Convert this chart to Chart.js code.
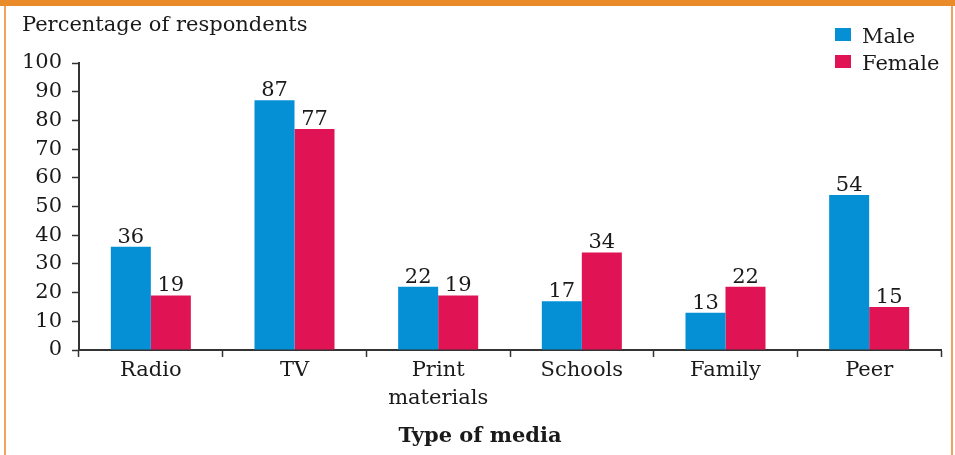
<!DOCTYPE html>
<html>
<head>
<meta charset="utf-8">
<script src="https://cdn.jsdelivr.net/npm/chart.js@4/dist/chart.umd.min.js"></script>
<style>
  html, body { margin: 0; padding: 0; background: #fff; }
  #wrap { position: relative; width: 955px; height: 455px; }
  #chart { position: absolute; left: 0; top: 0; }
  #frame {
    position: absolute; left: 4px; top: 0; width: 949px; height: 455px;
    box-sizing: border-box; pointer-events: none;
    border-left: 2px solid #EFA45A; border-right: 2px solid #EFA45A;
  }
  #topbar { position: absolute; left: 0; top: 0; width: 955px; height: 6px; background: #E98B28; }
</style>
</head>
<body>
<div id="wrap">
  <canvas id="chart" width="955" height="455"></canvas>
  <div id="frame"></div>
  <div id="topbar"></div>
</div>
<script>
const categories = ['Radio', 'TV', ['Print', 'materials'], 'Schools', 'Family', 'Peer'];
const maleValues = [36, 87, 22, 17, 13, 54];
const femaleValues = [19, 77, 19, 34, 22, 15];
const yTicks = [0, 10, 20, 30, 40, 50, 60, 70, 80, 90, 100];

const FONT = "'DejaVu Serif', serif";
const INK = '#1a1a1a';
const AXIS = '#333333';
const MALE = '#0590D6';
const FEMALE = '#E01454';

// Value labels above bars, axis captions and the legend box in the top right
const annotations = {
  id: 'annotations',
  afterDatasetsDraw(chart) {
    const ctx = chart.ctx;
    ctx.save();
    ctx.fillStyle = INK;
    ctx.font = '21px ' + FONT;
    ctx.textAlign = 'center';
    ctx.textBaseline = 'alphabetic';
    chart.data.datasets.forEach((ds, i) => {
      chart.getDatasetMeta(i).data.forEach((bar, j) => {
        ctx.fillText(String(ds.data[j]), bar.x, bar.y - 4);
      });
    });

    // y caption
    ctx.textAlign = 'left';
    ctx.fillText('Percentage of respondents', 22, 31);

    // x caption
    ctx.font = 'bold 21px ' + FONT;
    ctx.textAlign = 'center';
    ctx.fillText('Type of media', 480, 442);

    // legend
    ctx.font = '21px ' + FONT;
    ctx.textAlign = 'left';
    const items = [[chart.data.datasets[0].label, MALE, 28], [chart.data.datasets[1].label, FEMALE, 55]];
    items.forEach(([label, color, y]) => {
      ctx.fillStyle = color;
      ctx.fillRect(835, y, 16, 13);
      ctx.fillStyle = INK;
      ctx.fillText(label, 862, y + 15);
    });
    ctx.restore();
  }
};

new Chart(document.getElementById('chart'), {
  type: 'bar',
  data: {
    labels: categories,
    datasets: [
      { label: 'Male', data: maleValues, backgroundColor: MALE, categoryPercentage: 0.557, barPercentage: 1 },
      { label: 'Female', data: femaleValues, backgroundColor: FEMALE, categoryPercentage: 0.557, barPercentage: 1 }
    ]
  },
  options: {
    responsive: false,
    animation: false,
    layout: { padding: { left: 0, top: 63, right: 14, bottom: 0 } },
    plugins: { legend: { display: false }, tooltip: { enabled: false } },
    scales: {
      x: {
        grid: { offset: true, drawOnChartArea: false, tickLength: 7, tickColor: AXIS, tickWidth: 1.5 },
        border: { color: AXIS, width: 2 },
        ticks: { color: INK, font: { family: FONT, size: 21, lineHeight: 1.33 }, padding: 0, maxRotation: 0 },
        afterFit(scale) { scale.height = 105; }
      },
      y: {
        min: 0, max: 100,
        afterBuildTicks(scale) { scale.ticks = yTicks.map(v => ({ value: v })); },
        grid: { drawOnChartArea: false, tickLength: 7, tickColor: AXIS, tickWidth: 1.5 },
        border: { color: AXIS, width: 2 },
        ticks: { color: INK, font: { family: FONT, size: 21 }, padding: 10 },
        afterFit(scale) { scale.width = 79; }
      }
    }
  },
  plugins: [annotations]
});
</script>
</body>
</html>
